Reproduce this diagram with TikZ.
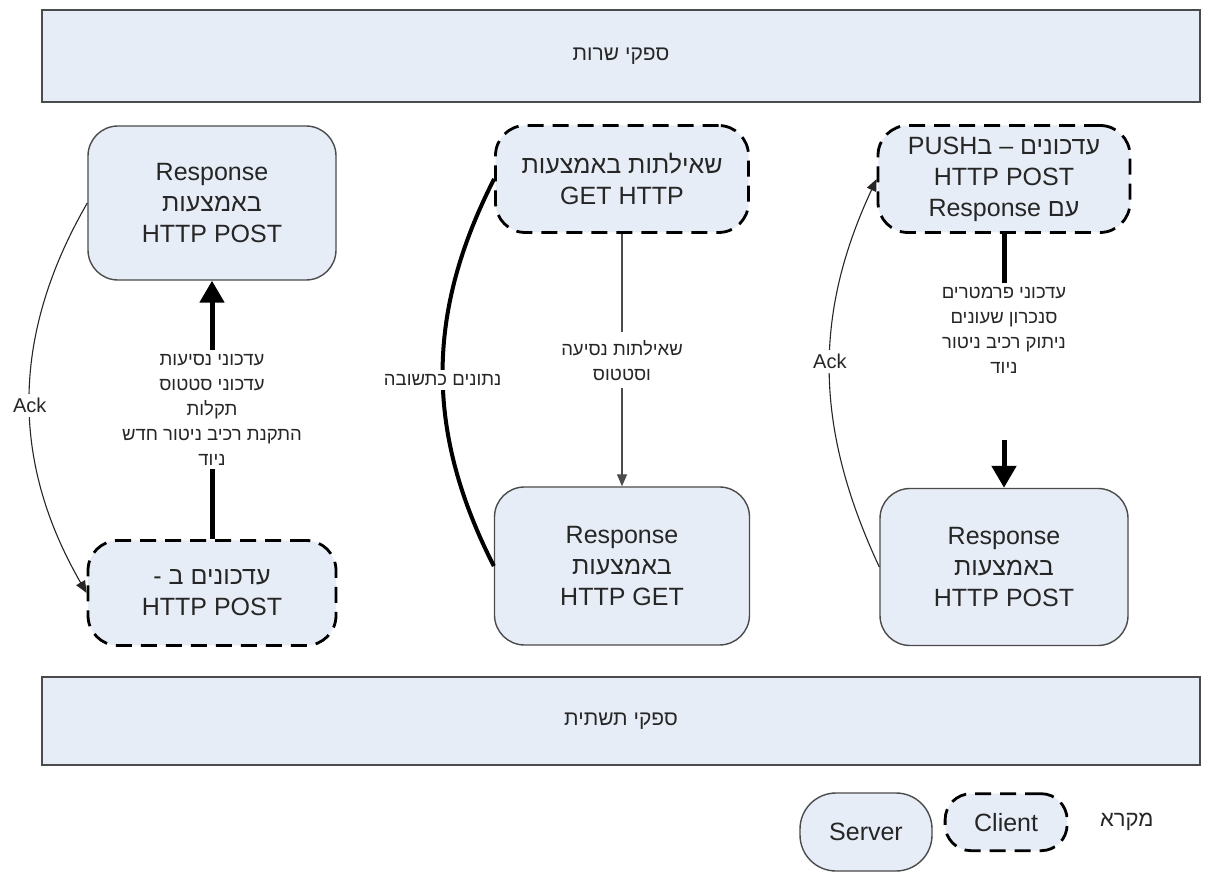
\documentclass[tikz,border=0pt]{standalone}
\usepackage{fontspec}
\setmainfont{Liberation Sans}
\newfontfamily\hebfont[Script=Hebrew]{Liberation Sans}
\TeXXeTstate=1
\usetikzlibrary{arrows.meta,positioning}
\definecolor{boxfill}{RGB}{231,237,247}
\definecolor{boxline}{RGB}{75,75,75}
\definecolor{inkgray}{RGB}{38,38,38}
\newcommand{\heb}[1]{{\hebfont\beginR #1\endR}}

\begin{document}
\begin{tikzpicture}[%
    x=1pt, y=1pt,                % one unit is one pixel of the sketch
    >={Triangle[width=10pt,length=12pt]},
    every node/.style={text=inkgray},
    ]
% -------------------------------------------------
% Box and connector styles
\tikzset{
  base/.style={fill=boxfill, align=center, rounded corners=30pt,
    font={\fontsize{25}{31}\selectfont}},
  srv/.style={base, draw=boxline, line width=1.4pt},
  cli/.style={base, draw=black, line width=2.8pt, dash pattern=on 16pt off 9pt},
  bar/.style={draw=boxline, fill=boxfill, line width=1.4pt,
    minimum width=1158pt, font={\fontsize{21}{26}\selectfont}},
  lbl/.style={fill=white, align=center, inner sep=4pt,
    font={\fontsize{18.5}{25}\selectfont}},
  flow/.style={draw=boxline, line width=1.4pt},
  ack/.style={draw=inkgray, line width=1.1pt},
  heavy/.style={draw=black, line width=5pt},
  bigtip/.style={-{Triangle[width=24pt,length=22pt]}}
}
\useasboundingbox[fill=white] (0,0) rectangle (1214,875);
% -------------------------------------------------
% Bands
\node [bar, minimum height=92pt] (svc) at (621,819) {\heb{ספקי שרות}};
\node [bar, minimum height=88pt] (infra) at (621,154) {\heb{ספקי תשתית}};

% Left column
\node [srv, minimum width=248pt, minimum height=154pt] (lt) at (212,672)
  {Response\\\heb{באמצעות}\\HTTP POST};
\node [cli, minimum width=248pt, minimum height=105pt] (lb) at (212,282)
  {\heb{עדכונים ב -}\\HTTP POST};

% Middle column
\node [cli, minimum width=253pt, minimum height=107pt] (mt) at (622,696)
  {\heb{שאילתות באמצעות}\\GET HTTP};
\node [srv, minimum width=255pt, minimum height=158pt] (mb) at (622,309)
  {Response\\\heb{באמצעות}\\HTTP GET};

% Right column
\node [cli, minimum width=252pt, minimum height=107pt] (rt) at (1004,696)
  {PUSH\heb{ב} – \heb{עדכונים}\\HTTP POST\\Response \heb{עם}};
\node [srv, minimum width=248pt, minimum height=157pt] (rb) at (1004,308)
  {Response\\\heb{באמצעות}\\HTTP POST};

% Legend
\node [srv, minimum width=132pt, minimum height=78pt, rounded corners=36pt]
  (server) at (866,43) {Server};
\node [cli, minimum width=122pt, minimum height=57pt, rounded corners=26pt,
  right=11pt of server.north east, anchor=north west] (client) {Client};
\node [right=28pt of client, font={\fontsize{22}{26}\selectfont}] (legend) {\heb{מקרא}};

% -------------------------------------------------
% Connectors
\draw [heavy, bigtip] (lb.north) -- node [lbl] (llab)
  {\heb{עדכוני נסיעות}\\\heb{עדכוני סטטוס}\\\heb{תקלות}\\\heb{התקנת רכיב ניטור חדש}\\\heb{ניוד}}
  (lt.south);
\draw [ack, ->] (lt.west) to [out=240, in=120]
  node [lbl, pos=0.52, font={\fontsize{20}{24}\selectfont}] {Ack} (lb.west);

\draw [flow, ->] (mt.south) -- node [lbl, inner sep=8pt] (mlab)
  {\heb{שאילתות נסיעה}\\\heb{וסטטוס}} (mb.north);
\draw [line width=4pt] (mb.west) to [out=117, in=243]
  node [lbl, pos=0.48] (mcur) {\heb{נתונים כתשובה}} (mt.west);

\node [lbl, anchor=north] (rlab) at (1004,592)
  {\heb{עדכוני פרמטרים}\\\heb{סנכרון שעונים}\\\heb{ניתוק רכיב ניטור}\\\heb{ניוד}};
\coordinate (rgap) at (1004,435);
\draw [heavy] (rt.south) -- (rlab.north);
\draw [heavy, bigtip] (rgap) -- (rb.north);
\draw [ack, ->] (rb.west) to [out=115, in=245]
  node [lbl, pos=0.53, font={\fontsize{20}{24}\selectfont}] {Ack} (rt.west);
% -------------------------------------------------
\end{tikzpicture}
\end{document}
